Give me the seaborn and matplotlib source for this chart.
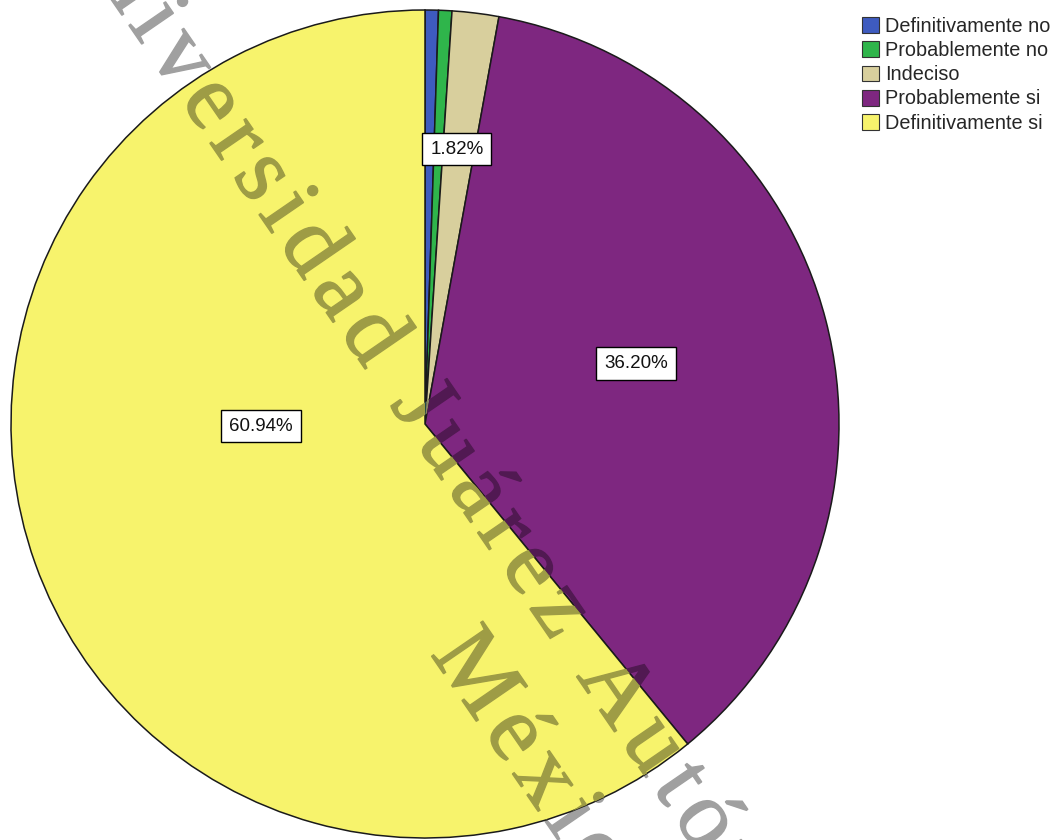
import numpy as np
import matplotlib
matplotlib.use("Agg")
import matplotlib.pyplot as plt
from matplotlib.patches import Patch, PathPatch
from matplotlib.font_manager import FontProperties
from matplotlib.textpath import TextPath, TextToPath
from matplotlib.transforms import Affine2D
import seaborn as sns

# Survey answers and their shares (%)
categories = ["Definitivamente no", "Probablemente no", "Indeciso",
              "Probablemente si", "Definitivamente si"]
percentages = [0.52, 0.52, 1.82, 36.20, 60.94]
slice_colors = ["#3e5bbf", "#2fb54b", "#d8cf9d", "#7e2780", "#f7f36c"]
watermark_lines = ["Universidad Juárez Autónoma de Tabasco", "México"]

sns.set_theme(style="white")
plt.rcParams["font.family"] = ["Liberation Sans", "DejaVu Sans"]

W, H, DPI = 1053, 840, 100
fig = plt.figure(figsize=(W / DPI, H / DPI), dpi=DPI)
fig.patch.set_facecolor("white")

# Background layer in pixel coordinates (y downwards)
bg = fig.add_axes([0, 0, 1, 1], zorder=0)
bg.set_xlim(0, W)
bg.set_ylim(H, 0)
bg.axis("off")

# Pie axes: circle centre and radius in pixels
cx, cy, R = 425, 424, 414
ax = fig.add_axes([(cx - R) / W, (H - cy - R) / H, 2 * R / W, 2 * R / H], zorder=1)
palette = sns.color_palette(slice_colors)
wedges, _ = ax.pie(percentages, colors=palette, startangle=90, counterclock=False,
                   wedgeprops=dict(edgecolor="#1a1a1a", linewidth=1.1))
ax.set_xlim(-1, 1)
ax.set_ylim(-1, 1)
ax.set_aspect("equal")
ax.axis("off")

# Diagonal watermark with spaced-out serif letters, drawn as glyph outlines
F = 95          # font size in px
track = 9       # extra spacing between letters in px
angle = 55.5
theta = np.deg2rad(angle)
direction = np.array([np.cos(theta), np.sin(theta)])
tp = TextToPath()
fp = FontProperties(family="Liberation Serif", size=F)


def advance(ch):
    if ch == " ":
        return 0.25 * F
    w, _, _ = tp.get_text_width_height_descent(ch, fp, ismath=False)
    return w


def glyph_positions(text, anchor, anchor_index):
    adv = [advance(c) + track for c in text]
    offs = np.concatenate([[0.0], np.cumsum(adv)[:-1]])
    start = np.array(anchor, dtype=float) - offs[anchor_index] * direction
    return [(c, start + o * direction) for c, o in zip(text, offs)]


line_anchors = [((576, 676), watermark_lines[0].index("A")), ((430, 654), 0)]
glyphs = []
for line, (anchor, idx) in zip(watermark_lines, line_anchors):
    for ch, p in glyph_positions(line, anchor, idx):
        if ch != " ":
            path = TextPath((0, 0), ch, size=F, prop=fp)
            tr = Affine2D().rotate_deg(-angle).scale(1, -1).translate(p[0], p[1])
            glyphs.append(tr.transform_path(path))


def draw_watermark(target, color, clip=None, z=2):
    for gp in glyphs:
        patch = PathPatch(gp, facecolor=color, edgecolor=color, linewidth=1.0,
                          transform=bg.transData, zorder=z)
        target.add_artist(patch)
        if clip is not None:
            patch.set_clip_on(True)
            patch.set_clip_path(clip)
        else:
            patch.set_clip_on(False)


# grey on the white page, darkened slice colour over each slice
draw_watermark(bg, "#a0a0a0")
for w, c in zip(wedges, palette):
    draw_watermark(ax, tuple(np.array(c) * 0.64), clip=w, z=3)

# Percentage labels in boxes
label_pos = {"Indeciso": (0.077, 0.664),
             "Probablemente si": (0.51, 0.147),
             "Definitivamente si": (-0.396, -0.005)}
for cat, v in zip(categories, percentages):
    if cat in label_pos:
        ax.text(*label_pos[cat], f"{v:.2f}%", ha="center", va="center",
                fontsize=13.5, color="#111111", zorder=6,
                bbox=dict(boxstyle="square,pad=0.42", fc="white", ec="black", lw=1))

handles = [Patch(facecolor=c, edgecolor="#333333", linewidth=0.8) for c in palette]
fig.legend(handles, categories, loc="upper left",
           bbox_to_anchor=(862 / W, 1 - 17 / H), frameon=False, fontsize=14.3,
           handlelength=0.85, handleheight=0.85, handletextpad=0.3,
           labelspacing=0.26, borderpad=0, borderaxespad=0)

fig.savefig("out.png", dpi=DPI, facecolor="white")
